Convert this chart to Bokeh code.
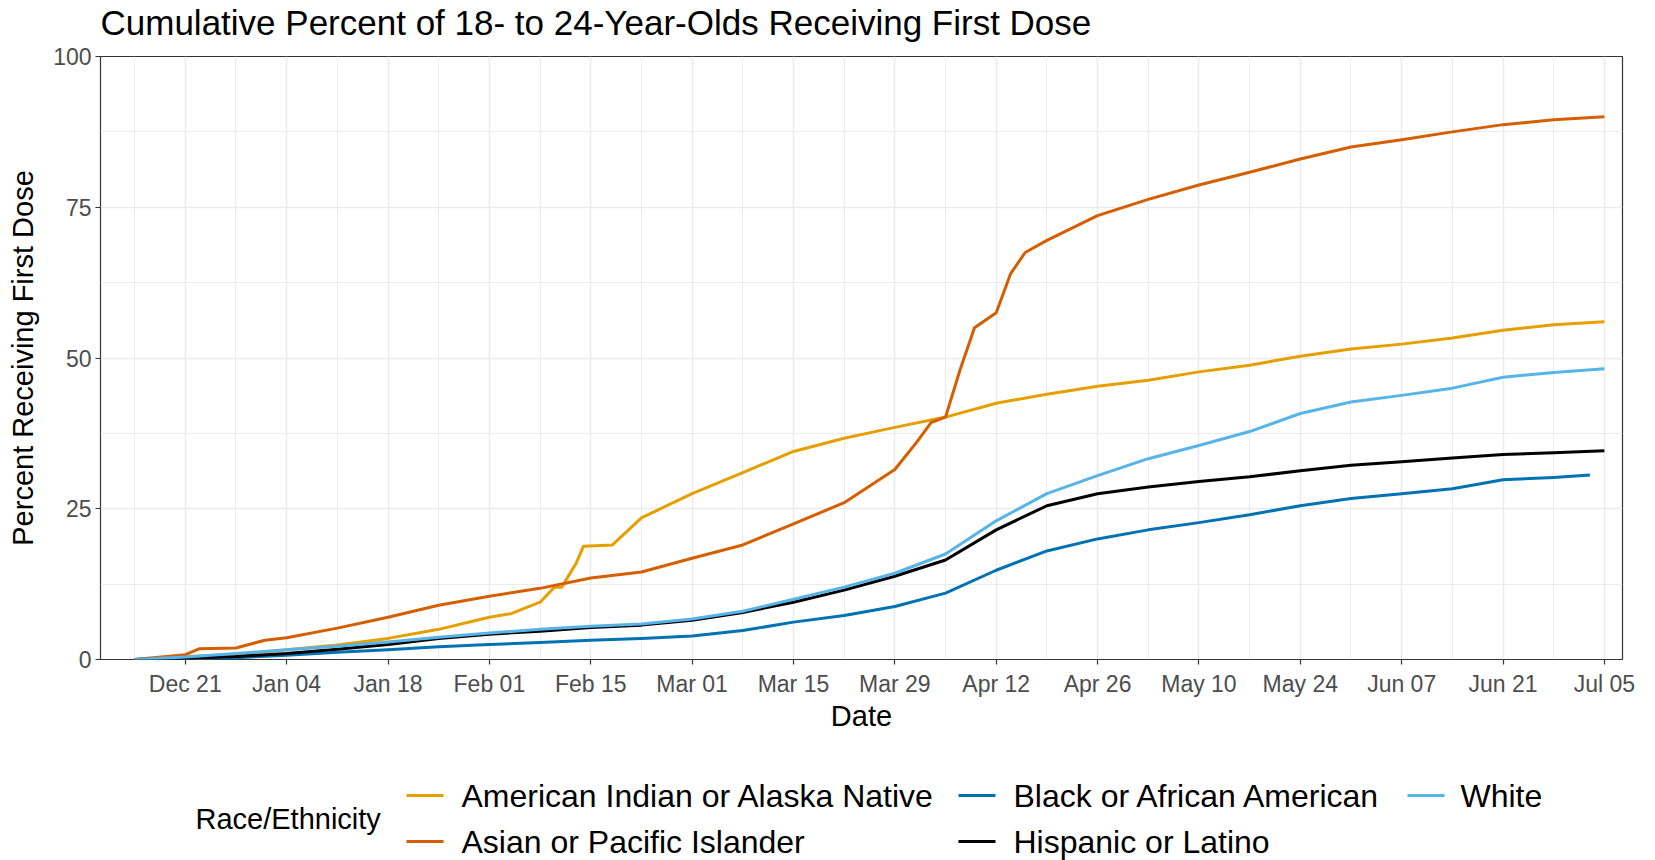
import pandas as pd
from bokeh.plotting import figure
from bokeh.models import Range1d, FixedTicker, DatetimeTickFormatter
from bokeh.layouts import column
from bokeh.embed import file_html
from bokeh.resources import INLINE
from bokeh.core.properties import value

# ---------------- data ----------------
aian_dates = ["2020-12-14", "2020-12-21", "2020-12-28", "2021-01-04", "2021-01-11", "2021-01-18",
              "2021-01-25", "2021-02-01", "2021-02-04", "2021-02-08", "2021-02-10", "2021-02-11",
              "2021-02-13", "2021-02-14", "2021-02-18", "2021-02-22", "2021-03-01", "2021-03-08",
              "2021-03-15", "2021-03-22", "2021-03-29", "2021-04-05", "2021-04-12", "2021-04-19",
              "2021-04-26", "2021-05-03", "2021-05-10", "2021-05-17", "2021-05-24", "2021-05-31",
              "2021-06-07", "2021-06-14", "2021-06-21", "2021-06-28", "2021-07-05"]
aian_vals = [0.0, 0.5, 0.8, 1.6, 2.4, 3.5, 5.0, 7.0, 7.6, 9.5, 12.0, 12.0, 16.0, 18.8, 19.0, 23.5,
             27.5, 31.0, 34.5, 36.7, 38.5, 40.2, 42.5, 44.0, 45.3, 46.3, 47.7, 48.8, 50.3, 51.5,
             52.3, 53.3, 54.6, 55.5, 56.0]

api_dates = ["2020-12-14", "2020-12-21", "2020-12-23", "2020-12-28", "2021-01-01", "2021-01-04",
             "2021-01-11", "2021-01-18", "2021-01-25", "2021-02-01", "2021-02-08", "2021-02-15",
             "2021-02-22", "2021-03-01", "2021-03-08", "2021-03-15", "2021-03-22", "2021-03-29",
             "2021-04-01", "2021-04-03", "2021-04-05", "2021-04-07", "2021-04-09", "2021-04-12",
             "2021-04-14", "2021-04-16", "2021-04-19", "2021-04-26", "2021-05-03", "2021-05-10",
             "2021-05-17", "2021-05-24", "2021-05-31", "2021-06-07", "2021-06-14", "2021-06-21",
             "2021-06-28", "2021-07-05"]
api_vals = [0.0, 0.8, 1.8, 1.9, 3.2, 3.6, 5.2, 7.0, 9.0, 10.5, 11.8, 13.5, 14.5, 16.8, 19.0, 22.5,
            26.0, 31.5, 36.0, 39.3, 40.2, 48.0, 55.0, 57.5, 64.0, 67.5, 69.5, 73.6, 76.3, 78.7,
            80.8, 83.0, 85.0, 86.2, 87.5, 88.7, 89.5, 90.0]

weekly_dates = ["2020-12-14", "2020-12-21", "2020-12-28", "2021-01-04", "2021-01-11", "2021-01-18",
                "2021-01-25", "2021-02-01", "2021-02-08", "2021-02-15", "2021-02-22", "2021-03-01",
                "2021-03-08", "2021-03-15", "2021-03-22", "2021-03-29", "2021-04-05", "2021-04-12",
                "2021-04-19", "2021-04-26", "2021-05-03", "2021-05-10", "2021-05-17", "2021-05-24",
                "2021-05-31", "2021-06-07", "2021-06-14", "2021-06-21", "2021-06-28", "2021-07-05"]

black_dates = weekly_dates[:-1] + ["2021-07-03"]
black_vals = [0.0, 0.1, 0.3, 0.7, 1.2, 1.6, 2.1, 2.5, 2.8, 3.2, 3.5, 3.9, 4.8, 6.2, 7.3, 8.8,
              11.0, 14.8, 18.0, 20.0, 21.5, 22.7, 24.0, 25.5, 26.7, 27.5, 28.3, 29.8, 30.2, 30.6]

hisp_dates = weekly_dates
hisp_vals = [0.0, 0.2, 0.5, 1.0, 1.7, 2.5, 3.5, 4.2, 4.7, 5.3, 5.7, 6.5, 7.8, 9.5, 11.5, 13.8,
             16.5, 21.5, 25.5, 27.5, 28.6, 29.5, 30.3, 31.3, 32.2, 32.8, 33.4, 34.0, 34.3, 34.6]

white_dates = weekly_dates
white_vals = [0.0, 0.4, 1.0, 1.6, 2.2, 2.9, 3.7, 4.4, 5.0, 5.5, 5.9, 6.7, 8.0, 10.0, 12.0, 14.3,
              17.5, 23.0, 27.5, 30.5, 33.3, 35.5, 37.8, 40.8, 42.7, 43.8, 45.0, 46.8, 47.6, 48.2]

series_names = ["American Indian or Alaska Native", "Asian or Pacific Islander",
                "Black or African American", "Hispanic or Latino", "White"]
series_colors = ["#E69F00", "#D55E00", "#0072B2", "#000000", "#56B4E9"]

x_tick_dates = ["2020-12-21", "2021-01-04", "2021-01-18", "2021-02-01", "2021-02-15", "2021-03-01",
                "2021-03-15", "2021-03-29", "2021-04-12", "2021-04-26", "2021-05-10", "2021-05-24",
                "2021-06-07", "2021-06-21", "2021-07-05"]
y_ticks = [0, 25, 50, 75, 100]

title_text = "Cumulative Percent of 18- to 24-Year-Olds Receiving First Dose"
legend_title = "Race/Ethnicity"

# ---------------- helpers ----------------
def ms(d):
    return pd.Timestamp(d).value / 1e6

major_ms = [ms(d) for d in x_tick_dates]
week = 7 * 24 * 3600 * 1000
minor_ms = [major_ms[0] - week] + [m + week for m in major_ms[:-1]]
y_minor = [(a + b) / 2 for a, b in zip(y_ticks[:-1], y_ticks[1:])]

FONT = "Liberation Sans"
W = 1647
BL, BR = 100, 25
FRAME_L, FRAME_R = BL, W - BR
TOP_H = 43
FRAME_TOP = 56


def strip(height, y0):
    # a plain strip whose data coordinates equal page pixels
    f = figure(width=W, height=height, x_range=Range1d(FRAME_L, FRAME_R),
               y_range=Range1d(y0 + height, y0),
               output_backend="svg", toolbar_location=None,
               min_border_left=BL, min_border_right=BR, min_border_top=0, min_border_bottom=0,
               x_axis_location=None, y_axis_location=None)
    f.grid.visible = False
    f.outline_line_color = None
    return f


# ---------------- title strip ----------------
top = strip(TOP_H, 0)
top.text(x=[FRAME_L], y=[22], text=[title_text], text_font=value(FONT), text_font_size="35px",
         text_baseline="middle", text_align="left", text_color="#000000")

# ---------------- main plot ----------------
x_start = pd.Timestamp("2020-12-09 07:00")
x_end = pd.Timestamp("2021-07-07 12:00")

p = figure(width=W, height=740 - TOP_H, x_axis_type="datetime",
           x_range=Range1d(x_start, x_end), y_range=Range1d(0, 100),
           output_backend="svg", toolbar_location=None,
           min_border_left=BL, min_border_right=BR, min_border_top=FRAME_TOP - TOP_H,
           min_border_bottom=81,
           background_fill_color="white", border_fill_color="white")

p.outline_line_color = "#333333"
p.outline_line_width = 1.2

p.xaxis.ticker = FixedTicker(ticks=major_ms, minor_ticks=minor_ms)
fmt = "%b %d"
p.xaxis.formatter = DatetimeTickFormatter(days=fmt, months=fmt, years=fmt, hours=fmt,
                                          hourmin=fmt, minutes=fmt, minsec=fmt,
                                          seconds=fmt, milliseconds=fmt, microseconds=fmt)
p.yaxis.ticker = FixedTicker(ticks=y_ticks, minor_ticks=y_minor)

for ax in (p.xaxis, p.yaxis):
    ax.axis_line_color = None
    ax.major_tick_line_color = "#333333"
    ax.major_tick_line_width = 1.2
    ax.major_tick_out = 5
    ax.major_tick_in = 0
    ax.minor_tick_line_color = None
    ax.major_label_text_font = FONT
    ax.major_label_text_font_size = "23px"
    ax.major_label_text_color = "#4D4D4D"
    ax.axis_label_text_font = FONT
    ax.axis_label_text_font_size = "29px"
    ax.axis_label_text_font_style = "normal"
    ax.axis_label_text_color = "#000000"

p.xaxis.axis_label = "Date"
p.yaxis.axis_label = "Percent Receiving First Dose"
p.xaxis.major_label_standoff = 6
p.yaxis.major_label_standoff = 4
p.xaxis.axis_label_standoff = 0
p.yaxis.axis_label_standoff = 11

for g in (p.xgrid, p.ygrid):
    g.grid_line_color = "#EBEBEB"
    g.grid_line_width = 1.5
    g.minor_grid_line_color = "#EBEBEB"
    g.minor_grid_line_width = 1

all_dates = [aian_dates, api_dates, black_dates, hisp_dates, white_dates]
all_vals = [aian_vals, api_vals, black_vals, hisp_vals, white_vals]
for dates, vals, name, col in zip(all_dates, all_vals, series_names, series_colors):
    p.line(pd.to_datetime(dates), vals, line_color=col, line_width=3.0, line_join="round")

# ---------------- legend strip ----------------
leg = strip(120, 740)

key_x0 = [406, 406, 958, 958, 1407]
key_x1 = [443, 443, 995, 995, 1444]
key_y = [795, 841, 795, 841, 795]
text_x = [461, 461, 1013, 1013, 1460]

leg.segment(x0=key_x0, y0=key_y, x1=key_x1, y1=key_y, line_color=series_colors, line_width=3.0)
leg.text(x=text_x, y=key_y, text=series_names, text_font=value(FONT), text_font_size="32px",
         text_baseline="middle", text_align="left", text_color="#000000")
leg.text(x=[195], y=[818], text=[legend_title], text_font=value(FONT), text_font_size="29px",
         text_baseline="middle", text_align="left", text_color="#000000")

layout = column(top, p, leg, spacing=0)
open("out.html", "w").write(file_html(layout, INLINE))
